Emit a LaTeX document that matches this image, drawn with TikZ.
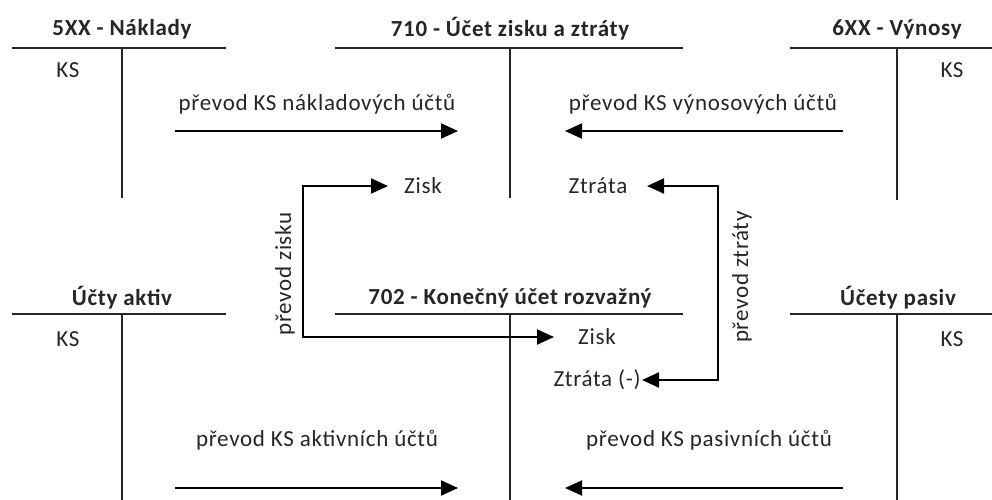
\documentclass[tikz,border=0pt]{standalone}
\usepackage{fontspec}
\setmainfont{Carlito}[LetterSpace=3]
\usetikzlibrary{arrows.meta}
\begin{document}
\begin{tikzpicture}[x=1pt,y=-1pt,
  tline/.style={line width=1.7pt, draw=black!85},
  tip/.tip={Triangle[length=17pt,width=15pt]},
  flow/.style={line width=2pt, draw=black, -tip},
  biflow/.style={line width=2pt, draw=black, tip-tip},
  title/.style={font=\bfseries\fontsize{23}{27}\selectfont, text=black!85, inner sep=0pt},
  lbl/.style={font=\fontsize{23}{27}\selectfont, text=black!85, inner sep=0pt}]
\useasboundingbox (0,0) rectangle (992,500);
\fill[white] (0,0) rectangle (992,500);

% account titles
\node[title] (tN)  at (122,29)  {5XX - Náklady};
\node[title] (tZZ) at (510,29)  {710 - Účet zisku a ztráty};
\node[title] (tV)  at (897,29)  {6XX - Výnosy};
\node[title] (tA)  at (122,298) {Účty aktiv};
\node[title] (tK)  at (510,298) {702 - Konečný účet rozvažný};
\node[title] (tP)  at (898,298) {Účety pasiv};

% T-account frames
\draw[tline] (12,48) -- (226,48) (122,48) -- (122,198);
\draw[tline] (335,48) -- (683,48) (510,48) -- (510,198);
\draw[tline] (790,48) -- (992,48) (897,48) -- (897,200);
\draw[tline] (12,314) -- (226,314) (122,314) -- (122,500);
\draw[tline] (335,314) -- (683,314) (510,314) -- (510,500);
\draw[tline] (790,314) -- (992,314) (897,314) -- (897,500);

% closing balances
\node[lbl] (ks1) at (68,70)   {KS};
\node[lbl] (ks2) at (952,70)  {KS};
\node[lbl] (ks3) at (68,339)  {KS};
\node[lbl] (ks4) at (952,339) {KS};

% transfer labels
\node[lbl] (pN) at (317,104) {převod KS nákladových účtů};
\node[lbl] (pV) at (703,104) {převod KS výnosových účtů};
\node[lbl] (pA) at (317,440) {převod KS aktivních účtů};
\node[lbl] (pP) at (709,440) {převod KS pasivních účtů};

% profit / loss entries
\node[lbl] (zisk1)   at (423,186) {Zisk};
\node[lbl] (ztrata1) at (598,186) {Ztráta};
\node[lbl] (zisk2)   at (597,337) {Zisk};
\node[lbl] (ztrata2) at (597,380) {Ztráta (-)};

\node[lbl, rotate=90] (pZ) at (285,274) {převod zisku};
\node[lbl, rotate=90] (pL) at (742,277) {převod ztráty};

% arrow end points
\coordinate (nS) at (175,131);  \coordinate (nE) at (458,131);
\coordinate (vS) at (843,131);  \coordinate (vE) at (565,131);
\coordinate (aS) at (175,488);  \coordinate (aE) at (458,488);
\coordinate (sS) at (843,488);  \coordinate (sE) at (565,488);
\coordinate (z1) at (388,186);  \coordinate (z2) at (554,337);
\coordinate (l1) at (647,186);  \coordinate (l2) at (642,380);

\draw[flow] (nS) -- (nE);
\draw[flow] (vS) -- (vE);
\draw[flow] (aS) -- (aE);
\draw[flow] (sS) -- (sE);
\draw[biflow] (z1) -| (303,337) -- (z2);
\draw[biflow] (l1) -| (718,380) -- (l2);
\end{tikzpicture}
\end{document}
